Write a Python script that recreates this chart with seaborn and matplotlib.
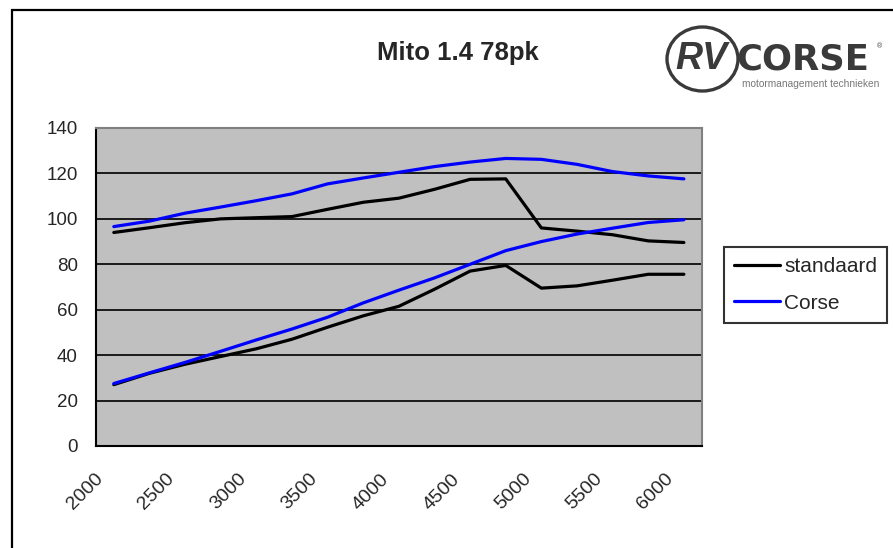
import matplotlib
matplotlib.use("Agg")
import matplotlib.pyplot as plt
import matplotlib.transforms as mtransforms
from matplotlib.patches import Ellipse, Rectangle
from matplotlib.lines import Line2D
from matplotlib.ticker import FixedLocator
import numpy as np
import pandas as pd
import seaborn as sns

# toerental (categorie-as, stappen van 250)
rpm = list(range(2000, 6001, 250))
xticklabels = ["2000", "2500", "3000", "3500", "4000", "4500", "5000", "5500", "6000"]

# koppel (bovenste lijnen) en vermogen (onderste lijnen)
std_koppel = [94.0, 96.1, 98.3, 100.0, 100.5, 101.0, 104.2, 107.3, 109.1, 113.0, 117.4, 117.6,
              96.0, 94.6, 93.0, 90.3, 89.6]
corse_koppel = [96.6, 99.0, 102.5, 105.2, 108.0, 111.0, 115.4, 118.0, 120.5, 123.0, 125.0, 126.6,
                126.2, 124.0, 120.8, 118.9, 117.6]
std_vermogen = [27.0, 32.0, 36.0, 39.4, 42.8, 47.0, 52.3, 57.3, 61.5, 69.0, 77.0, 79.5,
                69.5, 70.5, 73.0, 75.6, 75.6]
corse_vermogen = [27.5, 32.2, 36.8, 41.7, 46.7, 51.5, 56.7, 63.0, 68.6, 74.0, 80.0, 86.0,
                  90.0, 93.3, 95.9, 98.4, 99.6]

df = pd.concat([
    pd.DataFrame({"rpm": rpm, "waarde": std_koppel, "serie": "standaard", "curve": "std_k"}),
    pd.DataFrame({"rpm": rpm, "waarde": std_vermogen, "serie": "standaard", "curve": "std_v"}),
    pd.DataFrame({"rpm": rpm, "waarde": corse_koppel, "serie": "Corse", "curve": "corse_k"}),
    pd.DataFrame({"rpm": rpm, "waarde": corse_vermogen, "serie": "Corse", "curve": "corse_v"}),
])

sns.set_style("white")
plt.rcParams["font.family"] = ["Liberation Sans", "DejaVu Sans"]

W, H = 893, 548
fig = plt.figure(figsize=(W / 100, H / 100), dpi=100)
ax = fig.add_axes([96 / W, 1 - 446 / H, (701.7 - 96) / W, (446 - 128) / H])
ax.set_facecolor("#c0c0c0")

sns.lineplot(data=df, x="rpm", y="waarde", hue="serie", units="curve", estimator=None,
             palette={"standaard": "black", "Corse": "#0000ff"}, hue_order=["standaard", "Corse"],
             linewidth=2.3, legend=False, ax=ax)

ax.set_xlim(1875, 6125)
ax.set_ylim(0, 140)
ax.set_yticks(range(0, 141, 20))
ax.yaxis.grid(True, color="#1a1a1a", linewidth=1.4)
ax.set_axisbelow(True)
ax.set_xlabel("")
ax.set_ylabel("")

ax.xaxis.set_major_locator(FixedLocator(list(range(2000, 6001, 500))))
ax.set_xticklabels(xticklabels)
ax.xaxis.set_minor_locator(FixedLocator([1875 + 250 * k for k in range(18)]))
ax.tick_params(axis="x", which="major", length=0, pad=22, labelsize=14)
ax.tick_params(axis="x", which="minor", length=5, width=1.4, color="black", direction="out")
ax.tick_params(axis="y", length=5, width=1.4, color="black", pad=8, labelsize=13.5, direction="out")

offset = mtransforms.ScaledTranslation(-13 / 100, 0, fig.dpi_scale_trans)
for lab in ax.get_xticklabels():
    lab.set_rotation(45)
    lab.set_ha("right")
    lab.set_va("center")
    lab.set_rotation_mode("anchor")
    lab.set_transform(lab.get_transform() + offset)

for side in ["left", "bottom"]:
    ax.spines[side].set_color("black")
    ax.spines[side].set_linewidth(1.5)
for side in ["top", "right"]:
    ax.spines[side].set_color("#808080")
    ax.spines[side].set_linewidth(1.5)

# titel
fig.text(458 / W, 1 - 60 / H, "Mito 1.4 78pk", ha="center", va="baseline",
         fontsize=18.5, fontweight="bold")

# legenda
handles = [Line2D([], [], color="black", lw=2.3), Line2D([], [], color="#0000ff", lw=2.3)]
leg = fig.legend(handles, ["standaard", "Corse"], loc="upper left",
                 bbox_to_anchor=(724 / W, 1 - 247 / H), frameon=True, fancybox=False,
                 fontsize=15, handlelength=2.2, handletextpad=0.2, borderpad=0.48,
                 labelspacing=0.85, borderaxespad=0)
leg.get_frame().set_edgecolor("black")
leg.get_frame().set_linewidth(1.5)

# kader rond de grafiek
fig.patches.append(Rectangle((11.5 / W, -0.1), 1.2, 1.1 - 10.5 / H, transform=fig.transFigure,
                             fill=False, edgecolor="black", linewidth=1.6))

# logo
logo = "#3a3a3a"
fig.patches.append(Ellipse((702.5 / W, 1 - 59 / H), 71 / W, 64 / H, transform=fig.transFigure,
                           fill=False, edgecolor=logo, linewidth=2.4))
fig.text(701 / W, 1 - 59 / H, "RV", ha="center", va="center", fontsize=27, fontweight="bold",
         fontstyle="italic", color=logo)
fig.text(736 / W, 1 - 69 / H, "CORSE", ha="left", va="baseline", fontsize=25.5,
         fontweight="bold", color=logo, family="DejaVu Sans")
fig.text(742 / W, 1 - 87 / H, "motormanagement technieken", ha="left", va="baseline",
         fontsize=7.3, color="#777777")
fig.text(877 / W, 1 - 48 / H, "®", ha="left", va="baseline", fontsize=5, color=logo)

fig.savefig("out.png", dpi=100)
